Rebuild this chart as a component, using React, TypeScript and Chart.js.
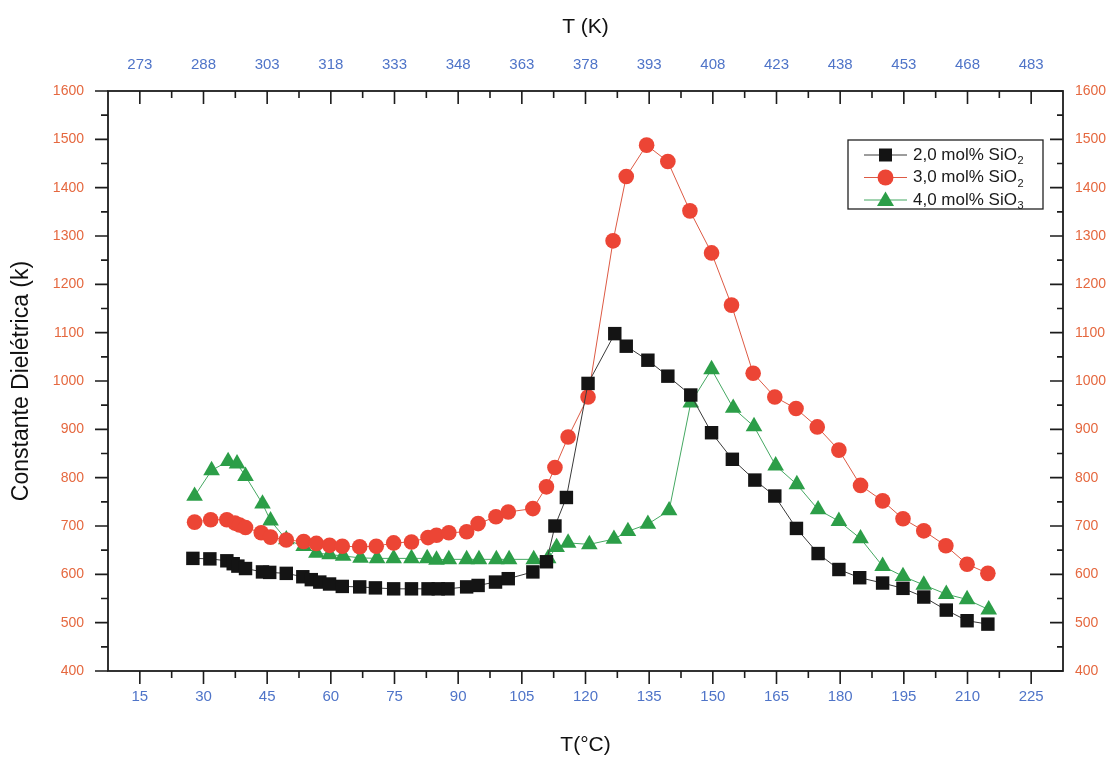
import React, { useEffect, useRef } from 'react';
import { Chart, registerables } from 'chart.js';

Chart.register(...registerables);

// ---- data ----
const temp2 = [27.5, 31.5, 35.5, 37.0, 38.1, 39.9, 43.9, 45.6, 49.5, 53.4, 55.4, 57.4, 59.7, 62.7, 66.8, 70.5, 74.8, 79.0, 82.9, 85.3, 87.6, 92.0, 94.7, 98.8, 101.8, 107.6, 110.8, 112.8, 115.5, 120.6, 126.9, 129.6, 134.7, 139.4, 144.8, 149.7, 154.6, 159.9, 164.6, 169.7, 174.8, 179.7, 184.6, 190.0, 194.8, 199.7, 205.0, 209.9, 214.8];
const k2 = [633, 632, 628, 622, 617, 612, 605, 604, 602, 595, 589, 584, 580, 575, 574, 572, 570, 570, 570, 570, 570, 574, 577, 584, 591, 605, 626, 700, 759, 995, 1098, 1072, 1043, 1010, 971, 893, 838, 795, 762, 695, 643, 610, 593, 582, 571, 553, 526, 504, 497];

const temp3 = [27.9, 31.7, 35.5, 37.4, 38.5, 39.9, 43.6, 45.8, 49.5, 53.6, 56.6, 59.7, 62.7, 66.8, 70.7, 74.8, 79.0, 82.9, 84.9, 87.8, 92.0, 94.7, 98.9, 101.8, 107.6, 110.8, 112.8, 115.9, 120.6, 126.5, 129.6, 134.4, 139.4, 144.6, 149.7, 154.4, 159.5, 164.6, 169.6, 174.6, 179.7, 184.8, 190.0, 194.8, 199.7, 204.9, 209.9, 214.8];
const k3 = [708, 713, 713, 706, 702, 697, 686, 677, 671, 668, 664, 660, 658, 657, 658, 665, 667, 676, 681, 686, 688, 705, 719, 729, 736, 781, 821, 884, 967, 1290, 1423, 1488, 1454, 1352, 1265, 1157, 1016, 967, 943, 905, 857, 784, 752, 715, 690, 659, 621, 602];

const temp4 = [27.9, 31.9, 35.8, 37.9, 39.9, 43.9, 45.8, 49.5, 53.6, 56.6, 59.7, 62.9, 67.0, 70.9, 74.8, 79.0, 82.7, 84.9, 87.8, 92.0, 94.9, 99.0, 102.0, 107.8, 111.2, 113.2, 115.9, 120.9, 126.7, 130.0, 134.7, 139.7, 144.8, 149.7, 154.8, 159.7, 164.8, 169.8, 174.8, 179.7, 184.8, 190.0, 194.8, 199.7, 205.0, 209.9, 215.0];
const k4 = [762, 815, 834, 829, 803, 746, 711, 672, 658, 644, 641, 638, 634, 633, 633, 633, 633, 630, 631, 631, 631, 631, 631, 631, 633, 656, 665, 662, 673, 689, 704, 732, 955, 1024, 944, 906, 825, 786, 734, 710, 674, 617, 596, 578, 559, 548, 527];

const seriesNames = ['2,0 mol% SiO', '3,0 mol% SiO', '4,0 mol% SiO'];
const seriesSub = ['2', '2', '3'];

const xTickValues = [15, 30, 45, 60, 75, 90, 105, 120, 135, 150, 165, 180, 195, 210, 225];
const topTickLabels = ['273', '288', '303', '318', '333', '348', '363', '378', '393', '408', '423', '438', '453', '468', '483'];
const yTickValues = [400, 500, 600, 700, 800, 900, 1000, 1100, 1200, 1300, 1400, 1500, 1600];

const X_MIN = 7.5;
const X_MAX = 232.5;
const Y_MIN = 400;
const Y_MAX = 1600;

const BLACK = '#141414';
const RED = '#ec4535';
const GREEN = '#2c9e48';
const LINE_BLACK = '#3a3a3a';
const LINE_RED = '#dd5a44';
const LINE_GREEN = '#45a862';
const X_LABEL = '#4f74c8';
const Y_LABEL = '#e5683f';
const FONT = "'Liberation Sans Narrow', 'Liberation Sans', Arial, sans-serif";
const TFONT = "'Liberation Sans', Arial, sans-serif";

function drawMarker(ctx: CanvasRenderingContext2D, kind: number, x: number, y: number) {
  ctx.beginPath();
  if (kind === 0) {
    ctx.fillStyle = BLACK;
    ctx.rect(x - 6.5, y - 6.5, 13, 13);
  } else if (kind === 1) {
    ctx.fillStyle = RED;
    ctx.arc(x, y, 8, 0, Math.PI * 2);
  } else {
    ctx.fillStyle = GREEN;
    ctx.moveTo(x, y - 8.5);
    ctx.lineTo(x + 8.5, y + 6);
    ctx.lineTo(x - 8.5, y + 6);
    ctx.closePath();
  }
  ctx.fill();
}

const framePlugin = {
  id: 'frameTicks',
  afterDraw(chart: any) {
    const { ctx, chartArea: a, scales } = chart;
    const xs = scales.x;
    const ys = scales.y;
    ctx.save();
    ctx.strokeStyle = '#1c1c1c';
    ctx.lineWidth = 1.8;
    ctx.strokeRect(a.left, a.top, a.right - a.left, a.bottom - a.top);
    ctx.lineWidth = 1.6;
    ctx.beginPath();
    const xMinor = xTickValues.slice(0, -1).map((v, i) => (v + xTickValues[i + 1]) / 2);
    xTickValues.forEach((v) => {
      const p = xs.getPixelForValue(v);
      ctx.moveTo(p, a.bottom); ctx.lineTo(p, a.bottom + 13);
      ctx.moveTo(p, a.top); ctx.lineTo(p, a.top + 13);
    });
    xMinor.forEach((v) => {
      const p = xs.getPixelForValue(v);
      ctx.moveTo(p, a.bottom); ctx.lineTo(p, a.bottom + 7);
      ctx.moveTo(p, a.top); ctx.lineTo(p, a.top + 7);
    });
    const yMinor = yTickValues.slice(0, -1).map((v, i) => (v + yTickValues[i + 1]) / 2);
    yTickValues.forEach((v) => {
      const p = ys.getPixelForValue(v);
      ctx.moveTo(a.left - 13, p); ctx.lineTo(a.left, p);
      ctx.moveTo(a.right - 13, p); ctx.lineTo(a.right, p);
    });
    yMinor.forEach((v) => {
      const p = ys.getPixelForValue(v);
      ctx.moveTo(a.left - 7, p); ctx.lineTo(a.left, p);
      ctx.moveTo(a.right - 6, p); ctx.lineTo(a.right, p);
    });
    ctx.stroke();

    // legend
    const bx = 848, by = 140, bw = 195, bh = 69;
    ctx.fillStyle = '#ffffff';
    ctx.fillRect(bx, by, bw, bh);
    ctx.strokeStyle = '#222';
    ctx.lineWidth = 1.3;
    ctx.strokeRect(bx, by, bw, bh);
    const lineCols = [LINE_BLACK, LINE_RED, LINE_GREEN];
    for (let i = 0; i < 3; i++) {
      const cy = by + 15 + i * 22.5;
      ctx.strokeStyle = lineCols[i];
      ctx.lineWidth = 1;
      ctx.beginPath();
      ctx.moveTo(864, cy); ctx.lineTo(907, cy);
      ctx.stroke();
      drawMarker(ctx, i, 885.5, cy);
      ctx.fillStyle = '#1a1a1a';
      ctx.textBaseline = 'middle';
      ctx.textAlign = 'left';
      ctx.font = `17px ${TFONT}`;
      ctx.fillText(seriesNames[i], 913, cy);
      const w = ctx.measureText(seriesNames[i]).width;
      ctx.font = `11px ${TFONT}`;
      ctx.fillText(seriesSub[i], 913 + w + 0.5, cy + 6);
    }
    ctx.restore();
  },
};

export default function App() {
  const ref = useRef<HTMLCanvasElement>(null);
  useEffect(() => {
    if (!ref.current) return;
    const pts = (xs: number[], ys: number[]) => xs.map((x, i) => ({ x, y: ys[i] }));
    const chart = new Chart(ref.current, {
      type: 'line',
      data: {
        datasets: [
          {
            label: seriesNames[0] + seriesSub[0],
            data: pts(temp2, k2),
            borderColor: LINE_BLACK,
            borderWidth: 1,
            backgroundColor: BLACK,
            pointBackgroundColor: BLACK,
            pointBorderColor: BLACK,
            pointBorderWidth: 0,
            pointStyle: 'rect',
            pointRadius: 9.5,
            tension: 0,
            xAxisID: 'x',
            yAxisID: 'y',
          },
          {
            label: seriesNames[1] + seriesSub[1],
            data: pts(temp3, k3),
            borderColor: LINE_RED,
            borderWidth: 1,
            backgroundColor: RED,
            pointBackgroundColor: RED,
            pointBorderColor: RED,
            pointBorderWidth: 0,
            pointStyle: 'circle',
            pointRadius: 7.8,
            tension: 0,
            xAxisID: 'x',
            yAxisID: 'y',
          },
          {
            label: seriesNames[2] + seriesSub[2],
            data: pts(temp4, k4),
            borderColor: LINE_GREEN,
            borderWidth: 1,
            backgroundColor: GREEN,
            pointBackgroundColor: GREEN,
            pointBorderColor: GREEN,
            pointBorderWidth: 0,
            pointStyle: 'triangle',
            pointRadius: 9.6,
            tension: 0,
            xAxisID: 'x',
            yAxisID: 'y',
          },
        ],
      },
      options: {
        animation: false,
        responsive: false,
        maintainAspectRatio: false,
        layout: { padding: 0 },
        plugins: { legend: { display: false }, tooltip: { enabled: false } },
        scales: {
          x: {
            type: 'linear',
            position: 'bottom',
            min: X_MIN,
            max: X_MAX,
            afterBuildTicks: (s: any) => { s.ticks = xTickValues.map((v) => ({ value: v })); },
            afterFit: (s: any) => { s.height = 89; },
            grid: { display: false, drawTicks: false },
            border: { display: false },
            ticks: { color: X_LABEL, font: { family: FONT, size: 15 }, padding: 17, maxRotation: 0, autoSkip: false, callback: (v: any) => String(v) },
            title: { display: true, text: 'T(°C)', color: '#111', font: { family: TFONT, size: 21 }, padding: { top: 0, bottom: 2 } },
          },
          x2: {
            type: 'linear',
            position: 'top',
            min: X_MIN,
            max: X_MAX,
            afterBuildTicks: (s: any) => { s.ticks = xTickValues.map((v) => ({ value: v })); },
            afterFit: (s: any) => { s.height = 91; },
            grid: { display: false, drawTicks: false },
            border: { display: false },
            ticks: { color: X_LABEL, font: { family: FONT, size: 15 }, padding: 17, maxRotation: 0, autoSkip: false, callback: (_v: any, i: number) => topTickLabels[i] },
            title: { display: true, text: 'T (K)', color: '#111', font: { family: TFONT, size: 21 }, padding: { top: 15, bottom: 0 } },
          },
          y: {
            type: 'linear',
            position: 'left',
            min: Y_MIN,
            max: Y_MAX,
            afterBuildTicks: (s: any) => { s.ticks = yTickValues.map((v) => ({ value: v })); },
            afterFit: (s: any) => { s.width = 108; },
            grid: { display: false, drawTicks: false },
            border: { display: false },
            ticks: { color: Y_LABEL, font: { family: FONT, size: 14 }, padding: 24, autoSkip: false, callback: (v: any) => String(v) },
            title: { display: true, text: 'Constante Dielétrica (k)', color: '#111', font: { family: TFONT, size: 23 }, padding: { top: 8, bottom: 0 } },
          },
          y2: {
            type: 'linear',
            position: 'right',
            min: Y_MIN,
            max: Y_MAX,
            afterBuildTicks: (s: any) => { s.ticks = yTickValues.map((v) => ({ value: v })); },
            afterFit: (s: any) => { s.width = 53; },
            grid: { display: false, drawTicks: false },
            border: { display: false },
            ticks: { color: Y_LABEL, font: { family: FONT, size: 14 }, padding: 12, autoSkip: false, callback: (v: any) => String(v) },
          },
        },
      } as any,
      plugins: [framePlugin],
    });
    return () => chart.destroy();
  }, []);

  return (
    <div style={{ position: 'fixed', left: 0, top: 0, width: 1116, height: 760, background: '#fff' }}>
      <canvas ref={ref} width={1116} height={760} style={{ display: 'block' }} />
    </div>
  );
}
